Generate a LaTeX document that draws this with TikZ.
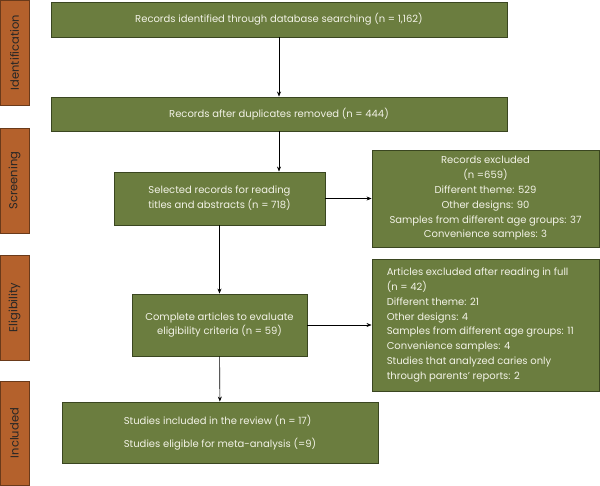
\documentclass[tikz,border=0pt]{standalone}
\usepackage{fontspec}
\setmainfont{Poppins}
\usetikzlibrary{arrows.meta}
\definecolor{gfill}{HTML}{6B7D3F}
\definecolor{gline}{HTML}{3A4620}
\definecolor{ofill}{HTML}{B4612C}
\definecolor{oline}{HTML}{6A3A1A}
\definecolor{gtext}{HTML}{F2F2E6}
\tikzset{
  gbox/.style={draw=gline, line width=0.9pt, fill=gfill, text=gtext, inner sep=0pt, font=\fontsize{10}{14.8}\selectfont},
  gtxt/.style={text=gtext, inner sep=0pt, font=\fontsize{10}{14.8}\selectfont},
  sidebox/.style={draw=oline, line width=0.9pt, fill=ofill, inner sep=0pt, minimum width=29pt, minimum height=105pt},
  sidetext/.style={rotate=90, text=black!85, inner sep=0pt, font=\fontsize{11.5}{12}\selectfont},
  arr/.style={draw=black, line width=0.6pt, -{Stealth[length=5pt,width=4pt]}}
}
\begin{document}
\begin{tikzpicture}[x=1pt,y=-1pt]
\useasboundingbox (0,0) rectangle (600,486);
% side labels
\node[sidebox] (s1) at (14.5,52.5) {};
\node[sidetext] (t1) at (s1.center) {Identification};
\node[sidebox] (s2) at (14.5,180.5) {};
\node[sidetext] (t2) at (s2.center) {Screening};
\node[sidebox] (s3) at (14.5,307.5) {};
\node[sidetext] (t3) at (s3.center) {Eligibility};
\node[sidebox, minimum height=104pt] (s4) at (14.5,433) {};
\node[sidetext] (t4) at (s4.center) {Included};
% main boxes
\node[gbox, minimum width=456pt, minimum height=35pt] (b1) at (279,19.5) {Records identified through database searching (n = 1,162)};
\node[gbox, minimum width=456pt, minimum height=34pt] (b2) at (279,114) {Records after duplicates removed (n = 444)};
\node[gbox, minimum width=211pt, minimum height=53pt, align=center] (b3) at (219.5,198.5) {Selected records for reading\\titles and abstracts (n = 718)};
\node[gbox, minimum width=227pt, minimum height=97pt, align=center] (b4) at (485.5,198.5) {Records excluded\\(n =659)\\Different theme: 529\\Other designs: 90\\Samples from different age groups: 37\\Convenience samples: 3};
\node[gbox, minimum width=175pt, minimum height=62pt, align=center] (b5) at (219.5,325) {Complete articles to evaluate\\eligibility criteria (n = 59)};
\node[gbox, minimum width=227pt, minimum height=132pt] (b6) at (485.5,325) {};
\node[gtxt, anchor=west, align=left] (b6t) at ([xshift=15pt]b6.west) {Articles excluded after reading in full\\(n = 42)\\Different theme: 21\\Other designs: 4\\Samples from different age groups: 11\\Convenience samples: 4\\Studies that analyzed caries only\\through parents' reports: 2};
\node[gbox, minimum width=316pt, minimum height=61pt, align=left, font=\fontsize{10}{23}\selectfont] (b7) at (220,432.5) {Studies included in the review (n = 17)\\Studies eligible for meta-analysis (=9)};
% connectors
\draw[arr] (b1) -- (b2);
\draw[arr] (b2.south) -- (b2.south |- b3.north);
\draw[arr] (b3) -- (b4);
\draw[arr] (b3) -- (b5);
\draw[arr] (b5) -- (b6);
\draw[arr] (b5) -- (b7);
\end{tikzpicture}
\end{document}
